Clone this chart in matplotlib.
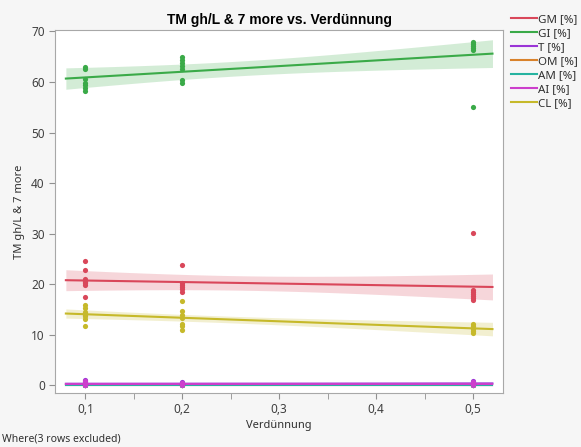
import numpy as np
import matplotlib.pyplot as plt

plt.rcParams['font.family'] = ['Noto Sans', 'DejaVu Sans']

# Messwerte je Verdünnungsstufe
verd = [0.1, 0.2, 0.5]

gm = {0.1: [24.6, 22.8, 21.1, 20.6, 20.4, 20.2, 19.8, 17.5],
      0.2: [23.9, 20.3, 19.9, 19.5, 19.0, 18.5],
      0.5: [30.2, 18.8, 18.4, 18.0, 17.6, 17.2, 16.8]}
gi = {0.1: [63.0, 62.6, 60.6, 59.9, 59.4, 58.8, 58.3],
      0.2: [65.0, 64.4, 63.8, 63.2, 62.6, 60.4, 59.8],
      0.5: [68.0, 67.6, 67.2, 66.8, 66.4, 55.1]}
t = {0.1: [1.0, 0.7, 0.3, 0.1, 0.0, 0.0],
     0.2: [0.6, 0.3, 0.1, 0.0],
     0.5: [0.8, 0.5, 0.2, 0.0]}
om = {0.1: [0.0, 0.0], 0.2: [0.0, 0.0], 0.5: [0.0, 0.0]}
am = {0.1: [0.0, 0.0], 0.2: [0.0, 0.0], 0.5: [0.0, 0.0]}
ai = {0.1: [0.8, 0.4, 0.1, 0.0],
      0.2: [0.4, 0.2, 0.0],
      0.5: [0.6, 0.3, 0.0]}
cl = {0.1: [15.8, 15.2, 14.6, 14.2, 13.9, 13.7, 13.2, 11.8],
      0.2: [16.6, 14.7, 14.0, 13.4, 12.2, 11.8, 11.0],
      0.5: [12.2, 11.7, 11.2, 10.8, 10.4]}

namen = ['GM [%]', 'GI [%]', 'T [%]', 'OM [%]', 'AM [%]', 'AI [%]', 'CL [%]']
reihen = [gm, gi, t, om, am, ai, cl]
farben = ['#d9475a', '#3aaa48', '#9a35d6', '#d9822b', '#26b3a0', '#cc3fcc', '#c6b92a']

fig = plt.figure(figsize=(5.81, 4.47), dpi=100, facecolor='#f6f6f6')
ax = fig.add_axes([0.095, 0.121, 0.771, 0.812])
ax.set_facecolor('white')

xs = np.linspace(0.08, 0.52, 100)
t95 = 2.1

for name, daten, farbe in zip(namen, reihen, farben):
    x = np.concatenate([[v] * len(daten[v]) for v in verd])
    y = np.concatenate([daten[v] for v in verd])
    b, a = np.polyfit(x, y, 1)
    yfit = a + b * xs
    res = y - (a + b * x)
    n = len(x)
    s = np.sqrt(np.sum(res ** 2) / (n - 2))
    sxx = np.sum((x - x.mean()) ** 2)
    ci = t95 * s * np.sqrt(1 / n + (xs - x.mean()) ** 2 / sxx)
    ax.fill_between(xs, yfit - ci, yfit + ci, color=farbe, alpha=0.22, lw=0)
    ax.plot(xs, yfit, color=farbe, lw=1.5, label=name)
    ax.scatter(x, y, s=14, color=farbe, zorder=3, lw=0)

ax.set_xlim(0.069, 0.531)
ax.set_ylim(-1.5, 70.3)
ax.set_xticks([0.1, 0.2, 0.3, 0.4, 0.5])
ax.set_xticklabels(['0,1', '0,2', '0,3', '0,4', '0,5'])
ax.set_xticks(np.arange(0.15, 0.5, 0.1), minor=True)
ax.set_yticks(range(0, 71, 10))
ax.tick_params(colors='#909090', labelcolor='#404040', labelsize=8.5, length=4)
ax.tick_params(which='minor', length=4, colors='#909090')
for sp in ax.spines.values():
    sp.set_color('#a8a8a8')

ax.set_title('TM gh/L & 7 more vs. Verdünnung', fontsize=10, fontweight='bold',
             family=['Liberation Sans', 'DejaVu Sans'], pad=4)
ax.set_xlabel('Verdünnung', fontsize=8, color='#303030', labelpad=3)
ax.set_ylabel('TM gh/L & 7 more', fontsize=8, color='#303030', labelpad=4)

leg = ax.legend(loc='upper left', bbox_to_anchor=(1.0, 1.065), frameon=False,
                fontsize=8.3, handlelength=2.2, handletextpad=0.1,
                labelspacing=0.25, borderaxespad=0.3)
for txt in leg.get_texts():
    txt.set_color('#303030')

fig.text(0.004, 0.012, 'Where(3 rows excluded)', fontsize=7.5, color='#303030')

fig.savefig('out.png', dpi=100, facecolor=fig.get_facecolor())
